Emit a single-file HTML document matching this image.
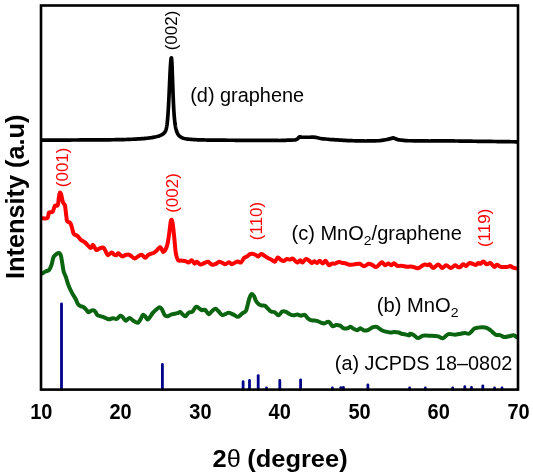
<!DOCTYPE html>
<html><head><meta charset="utf-8"><style>
html,body{margin:0;padding:0;background:#fff;}
body{width:533px;height:476px;overflow:hidden;}
svg{display:block;filter:blur(0.4px);}
text{font-family:"Liberation Sans",Arial,sans-serif;}
</style></head><body>
<svg width="533" height="476" viewBox="0 0 533 476">
<rect width="533" height="476" fill="#fff"/>
<g stroke="#00008a" stroke-width="2.8" stroke-linecap="round"><line x1="61.5" y1="389.6" x2="61.5" y2="304" /><line x1="162.4" y1="389.6" x2="162.4" y2="364.5" /><line x1="243.1" y1="389.6" x2="243.1" y2="381.7" /><line x1="249.5" y1="389.6" x2="249.5" y2="380.5" /><line x1="258.2" y1="389.6" x2="258.2" y2="375.6" /><line x1="266.5" y1="389.6" x2="266.5" y2="388.0" /><line x1="279.8" y1="389.6" x2="279.8" y2="380.5" /><line x1="300.6" y1="389.6" x2="300.6" y2="379.8" /><line x1="332.4" y1="389.6" x2="332.4" y2="388.0" /><line x1="340.8" y1="389.6" x2="340.8" y2="387.6" /><line x1="343.4" y1="389.6" x2="343.4" y2="387.3" /><line x1="367.9" y1="389.6" x2="367.9" y2="385" /><line x1="409.6" y1="389.6" x2="409.6" y2="388.0" /><line x1="425.3" y1="389.6" x2="425.3" y2="388.0" /><line x1="452.7" y1="389.6" x2="452.7" y2="388.0" /><line x1="464.8" y1="389.6" x2="464.8" y2="386.7" /><line x1="471.5" y1="389.6" x2="471.5" y2="387.4" /><line x1="482.8" y1="389.6" x2="482.8" y2="385.8" /><line x1="494.6" y1="389.6" x2="494.6" y2="388.0" /><line x1="502" y1="389.6" x2="502" y2="388.0" /></g>
<path d="M42.00,273.60 C42.58,273.25 44.30,272.12 45.50,271.50 C46.70,270.88 48.18,271.03 49.20,269.90 C50.22,268.77 50.92,266.73 51.60,264.70 C52.28,262.67 52.63,259.35 53.30,257.70 C53.97,256.05 54.73,255.57 55.60,254.80 C56.47,254.03 57.63,253.00 58.50,253.10 C59.37,253.20 60.13,253.47 60.80,255.40 C61.47,257.33 62.02,262.00 62.50,264.70 C62.98,267.40 63.12,269.48 63.70,271.60 C64.28,273.72 65.33,275.47 66.00,277.40 C66.67,279.33 67.12,281.47 67.70,283.20 C68.28,284.93 68.72,286.07 69.50,287.80 C70.28,289.53 71.35,291.68 72.40,293.60 C73.45,295.52 74.90,297.58 75.80,299.30 C76.70,301.02 77.05,302.78 77.80,303.90 C78.55,305.02 79.32,305.45 80.30,306.00 C81.28,306.55 82.72,306.58 83.70,307.20 C84.68,307.82 85.37,308.85 86.20,309.70 C87.03,310.55 87.85,312.15 88.70,312.30 C89.55,312.45 90.45,310.93 91.30,310.60 C92.15,310.27 93.10,310.07 93.80,310.30 C94.50,310.53 94.92,311.22 95.50,312.00 C96.08,312.78 96.50,314.30 97.30,315.00 C98.10,315.70 99.18,315.82 100.30,316.20 C101.42,316.58 102.63,316.80 104.00,317.30 C105.37,317.80 107.00,319.03 108.50,319.20 C110.00,319.37 111.62,318.37 113.00,318.30 C114.38,318.23 115.55,319.22 116.80,318.80 C118.05,318.38 119.50,316.05 120.50,315.80 C121.50,315.55 121.92,316.48 122.80,317.30 C123.68,318.12 124.68,320.58 125.80,320.70 C126.92,320.82 128.25,318.00 129.50,318.00 C130.75,318.00 131.92,319.90 133.30,320.70 C134.68,321.50 136.55,323.12 137.80,322.80 C139.05,322.48 139.93,320.15 140.80,318.80 C141.67,317.45 142.25,315.08 143.00,314.70 C143.75,314.32 144.53,315.70 145.30,316.50 C146.07,317.30 146.85,319.37 147.60,319.50 C148.35,319.63 148.93,318.40 149.80,317.30 C150.67,316.20 151.67,314.25 152.80,312.90 C153.93,311.55 155.47,310.15 156.60,309.20 C157.73,308.25 158.73,307.20 159.60,307.20 C160.47,307.20 160.93,307.87 161.80,309.20 C162.67,310.53 163.80,314.03 164.80,315.20 C165.80,316.37 166.67,316.35 167.80,316.20 C168.93,316.05 170.47,314.70 171.60,314.30 C172.73,313.90 173.65,313.98 174.60,313.80 C175.55,313.62 176.35,313.50 177.30,313.20 C178.25,312.90 179.43,311.82 180.30,312.00 C181.17,312.18 181.63,313.60 182.50,314.30 C183.37,315.00 184.50,316.45 185.50,316.20 C186.50,315.95 187.37,313.55 188.50,312.80 C189.63,312.05 191.05,312.70 192.30,311.70 C193.55,310.70 194.88,307.37 196.00,306.80 C197.12,306.23 198.00,307.73 199.00,308.30 C200.00,308.87 201.00,309.95 202.00,310.20 C203.00,310.45 203.87,309.12 205.00,309.80 C206.13,310.48 207.67,314.05 208.80,314.30 C209.93,314.55 210.68,312.23 211.80,311.30 C212.92,310.37 214.38,308.70 215.50,308.70 C216.62,308.70 217.37,310.25 218.50,311.30 C219.63,312.35 221.05,314.58 222.30,315.00 C223.55,315.42 224.88,314.17 226.00,313.80 C227.12,313.43 227.73,312.65 229.00,312.80 C230.27,312.95 232.10,314.03 233.60,314.70 C235.10,315.37 236.63,316.95 238.00,316.80 C239.37,316.65 240.53,314.72 241.80,313.80 C243.07,312.88 244.73,312.35 245.60,311.30 C246.47,310.25 246.38,309.63 247.00,307.50 C247.62,305.37 248.53,300.75 249.30,298.50 C250.07,296.25 250.82,294.42 251.60,294.00 C252.38,293.58 253.27,294.83 254.00,296.00 C254.73,297.17 255.17,299.62 256.00,301.00 C256.83,302.38 258.00,303.55 259.00,304.30 C260.00,305.05 261.00,305.25 262.00,305.50 C263.00,305.75 264.00,305.25 265.00,305.80 C266.00,306.35 267.00,307.85 268.00,308.80 C269.00,309.75 269.87,310.92 271.00,311.50 C272.13,312.08 273.55,311.67 274.80,312.30 C276.05,312.93 277.25,315.43 278.50,315.30 C279.75,315.17 281.05,312.08 282.30,311.50 C283.55,310.92 284.75,311.35 286.00,311.80 C287.25,312.25 288.55,313.62 289.80,314.20 C291.05,314.78 292.25,315.25 293.50,315.30 C294.75,315.35 296.05,314.43 297.30,314.50 C298.55,314.57 299.75,315.65 301.00,315.70 C302.25,315.75 303.67,314.37 304.80,314.80 C305.93,315.23 306.80,317.40 307.80,318.30 C308.80,319.20 309.67,319.83 310.80,320.20 C311.93,320.57 313.35,320.32 314.60,320.50 C315.85,320.68 317.18,320.92 318.30,321.30 C319.42,321.68 320.30,322.43 321.30,322.80 C322.30,323.17 323.30,323.63 324.30,323.50 C325.30,323.37 326.43,322.20 327.30,322.00 C328.17,321.80 328.63,321.62 329.50,322.30 C330.37,322.98 331.37,325.65 332.50,326.10 C333.63,326.55 335.05,325.08 336.30,325.00 C337.55,324.92 338.75,325.05 340.00,325.60 C341.25,326.15 342.55,327.85 343.80,328.30 C345.05,328.75 346.38,328.55 347.50,328.30 C348.62,328.05 349.50,326.73 350.50,326.80 C351.50,326.87 352.37,328.13 353.50,328.70 C354.63,329.27 356.17,330.27 357.30,330.20 C358.43,330.13 359.18,328.25 360.30,328.30 C361.42,328.35 362.63,330.25 364.00,330.50 C365.37,330.75 367.00,330.35 368.50,329.80 C370.00,329.25 371.62,327.70 373.00,327.20 C374.38,326.70 375.42,326.35 376.80,326.80 C378.18,327.25 379.80,329.08 381.30,329.90 C382.80,330.72 384.30,331.27 385.80,331.70 C387.30,332.13 388.80,332.45 390.30,332.50 C391.80,332.55 393.42,332.00 394.80,332.00 C396.18,332.00 397.35,332.17 398.60,332.50 C399.85,332.83 401.32,333.72 402.30,334.00 C403.28,334.28 403.38,333.97 404.50,334.20 C405.62,334.43 408.08,335.47 409.00,335.40 C409.92,335.33 409.25,333.87 410.00,333.80 C410.75,333.73 412.18,334.28 413.50,335.00 C414.82,335.72 416.42,337.97 417.90,338.10 C419.38,338.23 421.05,336.22 422.40,335.80 C423.75,335.38 424.68,335.60 426.00,335.60 C427.32,335.60 428.88,335.73 430.30,335.80 C431.72,335.87 433.18,335.90 434.50,336.00 C435.82,336.10 436.75,336.05 438.20,336.40 C439.65,336.75 441.52,338.48 443.20,338.10 C444.88,337.72 446.33,334.67 448.30,334.10 C450.27,333.53 453.22,334.72 455.00,334.70 C456.78,334.68 457.68,334.23 459.00,334.00 C460.32,333.77 461.90,333.45 462.90,333.30 C463.90,333.15 463.97,333.05 465.00,333.10 C466.03,333.15 468.02,333.87 469.10,333.60 C470.18,333.33 470.63,332.33 471.50,331.50 C472.37,330.67 473.22,329.25 474.30,328.60 C475.38,327.95 476.63,327.82 478.00,327.60 C479.37,327.38 481.05,327.25 482.50,327.30 C483.95,327.35 485.32,327.37 486.70,327.90 C488.08,328.43 489.67,329.65 490.80,330.50 C491.93,331.35 492.63,332.27 493.50,333.00 C494.37,333.73 494.90,334.55 496.00,334.90 C497.10,335.25 498.73,334.75 500.10,335.10 C501.47,335.45 502.65,336.82 504.20,337.00 C505.75,337.18 507.85,336.48 509.40,336.20 C510.95,335.92 512.23,335.12 513.50,335.30 C514.77,335.48 516.42,336.97 517.00,337.30" fill="none" stroke="#0b6410" stroke-width="4" stroke-linejoin="round" stroke-linecap="round"/>
<path d="M42.00,218.20 C42.92,218.17 46.33,218.93 47.50,218.00 C48.67,217.07 48.17,213.63 49.00,212.60 C49.83,211.57 51.63,212.65 52.50,211.80 C53.37,210.95 53.73,208.55 54.20,207.50 C54.67,206.45 54.70,205.88 55.30,205.50 C55.90,205.12 57.22,206.45 57.80,205.20 C58.38,203.95 58.47,200.07 58.80,198.00 C59.13,195.93 59.40,193.38 59.80,192.80 C60.20,192.22 60.72,193.05 61.20,194.50 C61.68,195.95 62.22,199.92 62.70,201.50 C63.18,203.08 63.72,203.33 64.10,204.00 C64.48,204.67 64.68,203.92 65.00,205.50 C65.32,207.08 65.67,210.95 66.00,213.50 C66.33,216.05 66.60,219.38 67.00,220.80 C67.40,222.22 67.87,221.63 68.40,222.00 C68.93,222.37 69.65,222.23 70.20,223.00 C70.75,223.77 71.13,224.83 71.70,226.60 C72.27,228.37 72.93,232.20 73.60,233.60 C74.27,235.00 75.00,234.55 75.70,235.00 C76.40,235.45 76.92,235.48 77.80,236.30 C78.68,237.12 79.77,238.85 81.00,239.90 C82.23,240.95 83.60,241.25 85.20,242.60 C86.80,243.95 89.30,247.63 90.60,248.00 C91.90,248.37 92.05,244.47 93.00,244.80 C93.95,245.13 95.22,249.38 96.30,250.00 C97.38,250.62 98.33,248.88 99.50,248.50 C100.67,248.12 102.30,247.28 103.30,247.70 C104.30,248.12 104.72,249.75 105.50,251.00 C106.28,252.25 106.97,254.97 108.00,255.20 C109.03,255.43 110.70,252.52 111.70,252.40 C112.70,252.28 113.22,254.03 114.00,254.50 C114.78,254.97 115.68,255.40 116.40,255.20 C117.12,255.00 117.37,253.10 118.30,253.30 C119.23,253.50 120.80,256.12 122.00,256.40 C123.20,256.68 124.33,255.28 125.50,255.00 C126.67,254.72 128.00,254.48 129.00,254.70 C130.00,254.92 130.55,255.67 131.50,256.30 C132.45,256.93 133.57,258.50 134.70,258.50 C135.83,258.50 137.13,256.92 138.30,256.30 C139.47,255.68 140.53,254.55 141.70,254.80 C142.87,255.05 144.25,257.73 145.30,257.80 C146.35,257.87 147.13,255.87 148.00,255.20 C148.87,254.53 149.58,254.17 150.50,253.80 C151.42,253.43 152.53,253.47 153.50,253.00 C154.47,252.53 155.47,251.75 156.30,251.00 C157.13,250.25 157.85,249.13 158.50,248.50 C159.15,247.87 159.65,247.03 160.20,247.20 C160.75,247.37 161.30,248.70 161.80,249.50 C162.30,250.30 162.62,251.92 163.20,252.00 C163.78,252.08 164.58,251.33 165.30,250.00 C166.02,248.67 166.82,247.00 167.50,244.00 C168.18,241.00 168.82,235.92 169.40,232.00 C169.98,228.08 170.47,222.00 171.00,220.50 C171.53,219.00 172.05,220.08 172.60,223.00 C173.15,225.92 173.77,233.00 174.30,238.00 C174.83,243.00 175.18,249.30 175.80,253.00 C176.42,256.70 177.13,258.93 178.00,260.20 C178.87,261.47 179.73,260.45 181.00,260.60 C182.27,260.75 184.33,260.77 185.60,261.10 C186.87,261.43 187.60,262.75 188.60,262.60 C189.60,262.45 190.60,260.03 191.60,260.20 C192.60,260.37 193.73,263.33 194.60,263.60 C195.47,263.87 195.82,261.65 196.80,261.80 C197.78,261.95 199.25,264.30 200.50,264.50 C201.75,264.70 203.05,263.45 204.30,263.00 C205.55,262.55 206.75,261.55 208.00,261.80 C209.25,262.05 210.55,264.12 211.80,264.50 C213.05,264.88 214.25,264.55 215.50,264.10 C216.75,263.65 218.17,262.02 219.30,261.80 C220.43,261.58 221.30,262.38 222.30,262.80 C223.30,263.22 224.18,264.40 225.30,264.30 C226.42,264.20 227.88,262.20 229.00,262.20 C230.12,262.20 231.00,264.25 232.00,264.30 C233.00,264.35 234.00,262.98 235.00,262.50 C236.00,262.02 237.00,261.40 238.00,261.40 C239.00,261.40 240.00,263.07 241.00,262.50 C242.00,261.93 243.00,259.00 244.00,258.00 C245.00,257.00 246.00,257.13 247.00,256.50 C248.00,255.87 249.00,254.63 250.00,254.20 C251.00,253.77 252.00,253.77 253.00,253.90 C254.00,254.03 255.12,254.57 256.00,255.00 C256.88,255.43 257.42,256.68 258.30,256.50 C259.18,256.32 260.30,254.03 261.30,253.90 C262.30,253.77 263.18,255.02 264.30,255.70 C265.42,256.38 266.75,257.30 268.00,258.00 C269.25,258.70 270.67,259.28 271.80,259.90 C272.93,260.52 273.80,262.10 274.80,261.70 C275.80,261.30 276.80,257.80 277.80,257.50 C278.80,257.20 279.80,259.32 280.80,259.90 C281.80,260.48 282.80,261.15 283.80,261.00 C284.80,260.85 285.77,259.23 286.80,259.00 C287.83,258.77 289.00,259.65 290.00,259.60 C291.00,259.55 291.58,258.22 292.80,258.70 C294.02,259.18 296.08,262.25 297.30,262.50 C298.52,262.75 299.25,260.20 300.10,260.20 C300.95,260.20 301.45,262.68 302.40,262.50 C303.35,262.32 304.77,259.48 305.80,259.10 C306.83,258.72 307.57,259.55 308.60,260.20 C309.63,260.85 311.07,262.82 312.00,263.00 C312.93,263.18 313.37,261.30 314.20,261.30 C315.03,261.30 316.07,263.08 317.00,263.00 C317.93,262.92 318.85,260.70 319.80,260.80 C320.75,260.90 321.75,263.60 322.70,263.60 C323.65,263.60 324.47,260.52 325.50,260.80 C326.53,261.08 327.87,264.83 328.90,265.30 C329.93,265.77 330.68,263.88 331.70,263.60 C332.72,263.32 333.78,263.88 335.00,263.60 C336.22,263.32 337.77,262.00 339.00,261.90 C340.23,261.80 341.37,262.77 342.40,263.00 C343.43,263.23 344.00,263.00 345.20,263.30 C346.40,263.60 348.13,264.62 349.60,264.80 C351.07,264.98 352.33,264.58 354.00,264.40 C355.67,264.22 357.92,263.38 359.60,263.70 C361.28,264.02 362.60,266.30 364.10,266.30 C365.60,266.30 367.18,263.88 368.60,263.70 C370.02,263.52 371.28,264.67 372.60,265.20 C373.92,265.73 375.00,267.37 376.50,266.90 C378.00,266.43 380.37,262.87 381.60,262.40 C382.83,261.93 383.25,263.63 383.90,264.10 C384.55,264.57 384.75,265.30 385.50,265.20 C386.25,265.10 387.45,263.50 388.40,263.50 C389.35,263.50 390.27,265.23 391.20,265.20 C392.13,265.17 392.97,263.20 394.00,263.30 C395.03,263.40 396.18,265.38 397.40,265.80 C398.62,266.22 400.08,265.72 401.30,265.80 C402.52,265.88 403.78,266.15 404.70,266.30 C405.62,266.45 405.52,266.63 406.80,266.70 C408.08,266.77 410.53,266.45 412.40,266.70 C414.27,266.95 416.03,268.55 418.00,268.20 C419.97,267.85 422.60,265.10 424.20,264.60 C425.80,264.10 426.67,265.23 427.60,265.20 C428.53,265.17 428.87,263.93 429.80,264.40 C430.73,264.87 431.78,268.00 433.20,268.00 C434.62,268.00 436.80,264.40 438.30,264.40 C439.80,264.40 440.88,267.87 442.20,268.00 C443.52,268.13 444.78,265.20 446.20,265.20 C447.62,265.20 449.20,268.00 450.70,268.00 C452.20,268.00 453.98,265.35 455.20,265.20 C456.42,265.05 457.15,266.78 458.00,267.10 C458.85,267.42 459.45,267.57 460.30,267.10 C461.15,266.63 462.17,264.48 463.10,264.30 C464.03,264.12 464.87,266.18 465.90,266.00 C466.93,265.82 468.18,263.57 469.30,263.20 C470.42,262.83 471.48,263.52 472.60,263.80 C473.72,264.08 475.05,265.05 476.00,264.90 C476.95,264.75 477.55,263.08 478.30,262.90 C479.05,262.72 479.67,264.03 480.50,263.80 C481.33,263.57 482.27,261.42 483.30,261.50 C484.33,261.58 485.57,264.07 486.70,264.30 C487.83,264.53 489.17,262.80 490.10,262.90 C491.03,263.00 491.55,264.20 492.30,264.90 C493.05,265.60 493.83,267.13 494.60,267.10 C495.37,267.07 495.97,264.78 496.90,264.70 C497.83,264.62 498.98,266.20 500.20,266.60 C501.42,267.00 502.98,267.05 504.20,267.10 C505.42,267.15 506.47,267.08 507.50,266.90 C508.53,266.72 509.45,265.87 510.40,266.00 C511.35,266.13 512.10,267.28 513.20,267.70 C514.30,268.12 516.37,268.37 517.00,268.50" fill="none" stroke="#ff0000" stroke-width="4" stroke-linejoin="round" stroke-linecap="round"/>
<polyline points="42.00,140.18 44.00,140.17 46.00,140.16 48.00,140.15 50.00,140.14 52.00,140.13 54.00,140.12 56.00,140.11 58.00,140.10 60.00,140.09 62.00,140.07 64.00,140.06 66.00,140.05 68.00,140.04 70.00,140.03 72.00,140.02 74.00,140.01 76.00,140.00 78.00,139.98 80.00,139.97 82.00,139.96 84.00,139.95 86.00,139.94 88.00,139.93 90.00,139.91 92.00,139.90 94.00,139.89 96.00,139.88 98.00,139.86 100.00,139.85 102.00,139.84 104.00,139.82 106.00,139.81 108.00,139.79 110.00,139.78 112.00,139.76 114.00,139.74 116.00,139.72 118.00,139.70 120.00,139.68 122.00,139.62 124.00,139.56 126.00,139.50 128.00,139.42 130.00,139.34 132.00,139.24 134.00,139.13 136.00,139.04 138.00,138.95 140.00,138.85 142.00,138.71 143.00,138.63 144.00,138.55 145.00,138.46 146.00,138.36 147.00,138.25 148.00,138.13 149.00,138.00 150.00,137.86 151.00,137.71 152.00,137.55 153.00,137.37 154.00,137.19 155.00,136.98 156.00,136.76 157.00,136.51 158.00,136.23 159.00,135.92 160.00,135.55 161.00,135.12 162.00,134.61 163.00,133.96 164.00,133.12 164.25,132.86 164.50,132.58 164.75,132.25 165.00,131.88 165.25,131.46 165.50,130.95 165.75,130.35 166.00,129.62 166.25,128.73 166.50,127.64 166.75,126.30 167.00,124.67 167.25,122.69 167.50,120.31 167.75,117.49 168.00,114.18 168.25,110.37 168.50,106.07 168.75,101.31 169.00,96.16 169.25,90.72 169.50,85.13 169.75,79.56 170.00,74.21 170.25,69.29 170.50,65.01 170.75,61.56 171.00,59.12 171.25,57.81 171.50,57.82 171.75,60.32 172.00,65.15 172.25,71.54 172.50,78.67 172.75,85.89 173.00,92.71 173.25,98.90 173.50,104.34 173.75,109.03 174.00,113.02 174.25,116.39 174.50,119.22 174.75,121.60 175.00,123.62 175.25,125.32 175.50,126.78 175.75,128.04 176.00,129.13 176.25,130.08 176.50,130.92 176.75,131.65 177.00,132.31 177.25,132.89 177.50,133.41 177.75,133.87 178.00,134.29 178.25,134.67 178.50,135.02 178.75,135.33 179.00,135.62 179.25,135.88 179.50,136.12 180.50,136.90 181.50,137.47 182.50,137.90 183.50,138.24 184.50,138.51 185.50,138.72 186.50,138.90 187.50,139.05 188.50,139.17 189.50,139.28 190.50,139.37 191.50,139.45 192.50,139.52 193.50,139.59 194.50,139.64 195.50,139.69 196.50,139.74 197.50,139.78 198.50,139.82 199.50,139.86 200.50,139.89 201.50,139.91 203.50,139.96 205.50,139.99 207.50,140.03 209.50,140.05 211.50,140.08 213.50,140.10 215.50,140.12 217.50,140.14 219.50,140.16 221.50,140.18 223.50,140.20 225.50,140.21 227.50,140.23 229.50,140.24 231.50,140.25 233.50,140.26 235.50,140.28 237.50,140.29 239.50,140.30 241.50,140.31 243.50,140.32 245.50,140.33 247.50,140.34 249.50,140.35 251.50,140.36 253.50,140.37 255.50,140.38 257.50,140.39 259.50,140.40 261.50,140.41 263.50,140.41 265.50,140.42 267.50,140.43 269.50,140.44 271.50,140.44 273.50,140.45 275.50,140.46 277.50,140.47 279.50,140.48 281.50,140.42 283.50,140.35 285.50,140.28 287.50,140.21 289.50,140.14 291.50,140.06 293.50,139.99 295.50,139.92 297.50,138.88 299.50,136.88 301.50,137.20 303.50,137.27 305.50,137.26 307.50,137.24 309.50,137.23 311.50,137.21 313.50,137.20 315.50,137.30 317.50,137.77 319.50,138.23 321.50,138.59 323.50,138.81 325.50,139.03 327.50,139.26 329.50,139.44 331.50,139.56 333.50,139.68 335.50,139.81 337.50,139.93 339.50,140.05 341.50,140.17 343.50,140.29 345.50,140.42 347.50,140.54 349.50,140.66 351.50,140.72 353.50,140.76 355.50,140.80 357.50,140.84 359.50,140.88 361.50,140.92 363.50,140.96 365.50,140.98 367.50,140.94 369.50,140.90 371.50,140.86 373.50,140.82 375.50,140.78 377.50,140.74 379.50,140.70 381.50,140.43 383.50,140.09 385.50,139.74 387.50,139.39 389.50,138.89 391.50,138.39 393.50,137.89 395.50,138.74 397.50,139.58 399.50,139.94 401.50,140.14 403.50,140.35 405.50,140.55 407.50,140.70 409.50,140.73 411.50,140.75 413.50,140.78 415.50,140.81 417.50,140.83 419.50,140.86 421.50,140.88 423.50,140.91 425.50,140.94 427.50,140.96 429.50,140.99 431.50,140.97 433.50,140.93 435.50,140.89 437.50,140.85 439.50,140.81 441.50,140.82 443.50,140.84 445.50,140.87 447.50,140.89 449.50,140.92 451.50,140.95 453.50,140.97 455.50,141.00 457.50,141.02 459.50,141.05 461.50,141.08 463.50,141.10 465.50,141.13 467.50,141.15 469.50,141.18 471.50,141.21 473.50,141.23 475.50,141.26 477.50,141.28 479.50,141.31 481.50,141.34 483.50,141.36 485.50,141.39 487.50,141.41 489.50,141.44 491.50,141.47 493.50,141.49 495.50,141.52 497.50,141.54 499.50,141.57 501.50,141.60 503.50,141.62 505.50,141.65 507.50,141.67 509.50,141.70 511.50,141.73 513.50,141.75 515.50,141.78 517.00,141.80" fill="none" stroke="#000" stroke-width="3.7" stroke-linejoin="round" stroke-linecap="round"/>
<rect x="41.0" y="5.5" width="477" height="384.1" fill="none" stroke="#000" stroke-width="2.6"/>
<g font-size="19.5" fill="#000">
<text transform="translate(190.2,101.6) scale(1.021,1)">(d) graphene</text>
<text transform="translate(291.5,239.5) scale(1.028,1)">(c) MnO<tspan font-size="13.5" dy="5.5">2</tspan><tspan dy="-5.5">/graphene</tspan></text>
<text transform="translate(376.8,311.6) scale(1.035,1)">(b) MnO<tspan font-size="13.5" dy="5.5">2</tspan></text>
<text transform="translate(334.8,369.7) scale(1.017,1)">(a) JCPDS 18–0802</text>
</g>
<g font-size="17">
<text transform="translate(177.2,50.3) rotate(-90)" fill="#000">(002)</text>
<text transform="translate(68.2,187.2) rotate(-90)" fill="#ff0000">(001)</text>
<text transform="translate(178.3,212.8) rotate(-90)" fill="#ff0000">(002)</text>
<text transform="translate(261.7,240.2) rotate(-90)" fill="#ff0000">(110)</text>
<text transform="translate(490.2,247.1) rotate(-90)" fill="#ff0000">(119)</text>
</g>
<g font-size="22" font-weight="bold" text-anchor="middle">
<text transform="translate(41.3,418.8) scale(0.91,1)">10</text>
<text transform="translate(120.6,418.8) scale(0.91,1)">20</text>
<text transform="translate(200.4,418.8) scale(0.91,1)">30</text>
<text transform="translate(279.7,418.8) scale(0.91,1)">40</text>
<text transform="translate(359.5,418.8) scale(0.91,1)">50</text>
<text transform="translate(438.7,418.8) scale(0.91,1)">60</text>
<text transform="translate(518.5,418.8) scale(0.91,1)">70</text>
</g>
<g font-size="24" font-weight="bold"><text transform="translate(212.6,466.5) scale(1.06,1)">2<tspan font-weight="normal">θ</tspan></text><text transform="translate(247.3,466.5) scale(1.06,1)">(degree)</text></g>
<text transform="translate(23.5,196.8) rotate(-90)" font-size="25.3" font-weight="bold" text-anchor="middle">Intensity (a.u)</text>
</svg>
</body></html>
